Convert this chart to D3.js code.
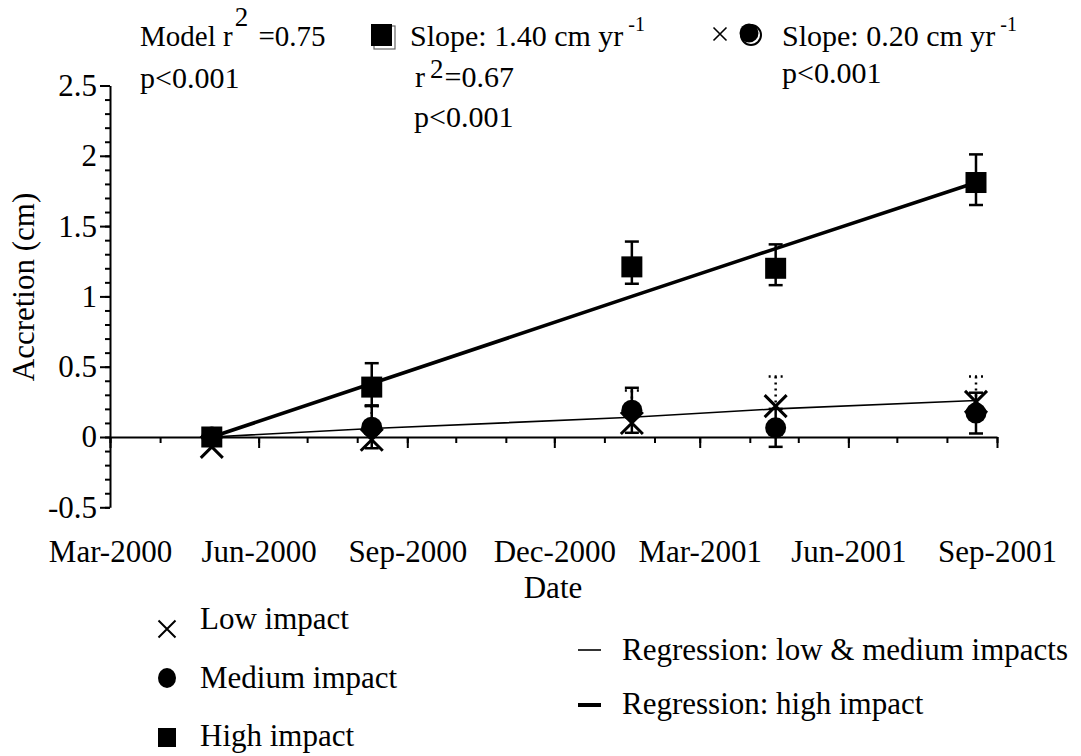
<!DOCTYPE html>
<html>
<head>
<meta charset="utf-8">
<script src="https://cdn.jsdelivr.net/npm/d3@7"></script>
<style>
  body { margin: 0; background: #fff; }
  text { font-family: "Liberation Serif", "Times New Roman", serif; fill: #000; }
</style>
</head>
<body>
<svg id="chart" width="1081" height="756"></svg>
<script>
// Sampling dates and mean accretion (cm) per impact class
const sampleDates = ["2000-05-03", "2000-08-10", "2001-01-18", "2001-04-17", "2001-08-19"];
const lowImpact = [-0.07, -0.02, 0.10, 0.22, 0.25];
const lowErr = [0.05, 0.24, 0.23, 0.21, 0.18];          // drawn upward only
const mediumImpact = [0.0, 0.07, 0.19, 0.065, 0.17];
const mediumErr = [0.03, 0.15, 0.16, 0.135, 0.145];
const highImpact = [0.0, 0.355, 1.21, 1.20, 1.81];
const highErrUp = [0.03, 0.17, 0.18, 0.17, 0.20];
const highErrDown = [0.03, 0.13, 0.12, 0.12, 0.16];
// Fitted regression values at each sampling date
const fitLowMedium = [0, 0.06, 0.14, 0.20, 0.26];
const fitHigh = [0, 0.38, 1.00, 1.34, 1.81];
// Axis ticks
const yTicks = [-0.5, 0, 0.5, 1, 1.5, 2, 2.5];
const yTickLabels = ["-0.5", "0", "0.5", "1", "1.5", "2", "2.5"];
const xTickDates = ["2000-03-01", "2000-06-01", "2000-09-01", "2000-12-01", "2001-03-01", "2001-06-01", "2001-09-01"];
const xTickLabels = ["Mar-2000", "Jun-2000", "Sep-2000", "Dec-2000", "Mar-2001", "Jun-2001", "Sep-2001"];

const parse = d3.utcParse("%Y-%m-%d");
const dates = sampleDates.map(parse);
const xTicks = xTickDates.map(parse);

const svg = d3.select("#chart");
const FS = 31;

const x = d3.scaleUtc().domain([xTicks[0], xTicks[xTicks.length - 1]]).range([110, 997]);
const y = d3.scaleLinear().domain([-0.5, 2.5]).range([507.3, 85.5]);

// ---- Y axis: minor ticks every 0.1, labelled major ticks every 0.5
const yMinor = d3.range(-5, 26).map(i => i / 10);
svg.append("g").attr("transform", "translate(110,0)")
  .call(d3.axisLeft(y).tickValues(yMinor).tickSize(5).tickSizeOuter(0).tickFormat(""))
  .call(g => g.selectAll("line,path").attr("stroke", "#000").attr("stroke-width", 2));
svg.append("g").attr("transform", "translate(110,0)")
  .call(d3.axisLeft(y).tickValues(yTicks).tickSize(10).tickSizeOuter(0).tickPadding(3)
    .tickFormat((d, i) => yTickLabels[i]))
  .call(g => g.select(".domain").remove())
  .call(g => g.selectAll("line").attr("stroke", "#000").attr("stroke-width", 2))
  .call(g => g.selectAll("text").attr("font-size", FS).attr("font-family", null).attr("fill", "#000"));

// ---- X axis drawn along y = 0: monthly minor ticks, quarterly major ticks
const xMinor = d3.utcMonth.range(xTicks[0], d3.utcDay.offset(xTicks[xTicks.length - 1], 1));
svg.append("g").attr("transform", `translate(0,${y(0)})`)
  .call(d3.axisBottom(x).tickValues(xMinor).tickSize(6).tickSizeOuter(0).tickFormat(""))
  .call(g => g.selectAll("line,path").attr("stroke", "#000").attr("stroke-width", 2));
svg.append("g").attr("transform", `translate(0,${y(0)})`)
  .call(d3.axisBottom(x).tickValues(xTicks).tickSize(11).tickSizeOuter(0).tickFormat(""))
  .call(g => g.select(".domain").remove())
  .call(g => g.selectAll("line").attr("stroke", "#000").attr("stroke-width", 2));
// Date labels sit below the plot frame
svg.append("g").attr("transform", `translate(0,${y(-0.5)})`)
  .call(d3.axisBottom(x).tickValues(xTicks).tickSize(0).tickPadding(33)
    .tickFormat((d, i) => xTickLabels[i]))
  .call(g => g.select(".domain").remove())
  .call(g => g.selectAll("text").attr("font-size", FS).attr("font-family", null).attr("fill", "#000"));

// Axis titles
svg.append("text").attr("x", 553).attr("y", 598).attr("text-anchor", "middle")
  .attr("font-size", FS).text("Date");
svg.append("text").attr("transform", "translate(34,287) rotate(-90)").attr("text-anchor", "middle")
  .attr("font-size", FS).text("Accretion (cm)");

// ---- Regression lines
const fitLine = d3.line().x((d, i) => x(dates[i])).y(d => y(d));
svg.append("path").datum(fitLowMedium).attr("d", fitLine)
  .attr("fill", "none").attr("stroke", "#000").attr("stroke-width", 1.6);
svg.append("path").datum(fitHigh).attr("d", fitLine)
  .attr("fill", "none").attr("stroke", "#000").attr("stroke-width", 3.6);

// ---- Error bars
function errorBars(vals, up, down, dash) {
  const g = svg.append("g").attr("stroke", "#000").attr("stroke-width", 2.5)
    .attr("stroke-dasharray", dash);
  vals.forEach((v, i) => {
    const cx = x(dates[i]);
    const top = y(v + up[i]);
    const bot = down ? y(v - down[i]) : y(v);
    g.append("line").attr("x1", cx).attr("x2", cx).attr("y1", top).attr("y2", bot);
    g.append("line").attr("x1", cx - 7).attr("x2", cx + 7).attr("y1", top).attr("y2", top);
    if (down) g.append("line").attr("x1", cx - 7).attr("x2", cx + 7).attr("y1", bot).attr("y2", bot);
  });
}
errorBars(lowImpact, lowErr, null, "2,4");
errorBars(mediumImpact, mediumErr, mediumErr, null);
errorBars(highImpact, highErrUp, highErrDown, null);

// ---- Markers
const crossPath = s => `M${-s},${-s}L${s},${s}M${-s},${s}L${s},${-s}`;
svg.append("g").selectAll("path").data(lowImpact).join("path")
  .attr("transform", (d, i) => `translate(${x(dates[i])},${y(d)})`)
  .attr("d", crossPath(11)).attr("stroke", "#000").attr("stroke-width", 3).attr("fill", "none");
svg.append("g").selectAll("circle").data(mediumImpact).join("circle")
  .attr("cx", (d, i) => x(dates[i])).attr("cy", d => y(d)).attr("r", 10.5).attr("fill", "#000");
svg.append("g").selectAll("rect").data(highImpact).join("rect")
  .attr("x", (d, i) => x(dates[i]) - 10.5).attr("y", d => y(d) - 10.5)
  .attr("width", 21).attr("height", 21).attr("fill", "#000");

// ---- Statistics annotations
function rich(xp, yp, parts, size = 30) {
  const t = svg.append("text").attr("x", xp).attr("y", yp).attr("font-size", size);
  parts.forEach(p => {
    const s = t.append("tspan").text(p.t);
    if (p.sup) s.attr("font-size", p.size).attr("dy", -p.sup);
    if (p.down) s.attr("dy", p.down);
    if (p.dx) s.attr("dx", p.dx);
  });
}
rich(140, 46, [{ t: "Model r" }, { t: "2", sup: 20, size: 27, dx: 2 }, { t: " =0.75", down: 20, dx: 3 }], 29);
rich(140, 88, [{ t: "p<0.001" }]);

svg.append("rect").attr("x", 374).attr("y", 26).attr("width", 21).attr("height", 23)
  .attr("fill", "none").attr("stroke", "#666").attr("stroke-width", 1.2);
svg.append("rect").attr("x", 371).attr("y", 24).attr("width", 21).attr("height", 22).attr("fill", "#000");
rich(410, 46, [{ t: "Slope: 1.40 cm yr" }, { t: "-1", sup: 15, size: 20, dx: 5 }]);
rich(415, 87, [{ t: "r" }, { t: "2", sup: 9, size: 27, dx: 5 }, { t: "=0.67", down: 9, dx: 1 }]);
rich(414, 127, [{ t: "p<0.001" }]);

svg.append("path").attr("transform", "translate(720,34)").attr("d", crossPath(6.5))
  .attr("stroke", "#000").attr("stroke-width", 1.6);
svg.append("circle").attr("cx", 751).attr("cy", 35).attr("r", 10).attr("fill", "#fff")
  .attr("stroke", "#000").attr("stroke-width", 2);
svg.append("circle").attr("cx", 749).attr("cy", 33).attr("r", 9.5).attr("fill", "#000");
rich(782, 46, [{ t: "Slope: 0.20 cm yr" }, { t: "-1", sup: 15, size: 20, dx: 5 }]);
rich(782, 83, [{ t: "p<0.001" }]);

// ---- Legend
const lg = svg.append("g");
lg.append("path").attr("transform", "translate(167,629)").attr("d", crossPath(8.5))
  .attr("stroke", "#000").attr("stroke-width", 2);
lg.append("ellipse").attr("cx", 167).attr("cy", 678).attr("rx", 9).attr("ry", 10).attr("fill", "#000");
lg.append("rect").attr("x", 158).attr("y", 728).attr("width", 18).attr("height", 19).attr("fill", "#000");
lg.append("line").attr("x1", 578).attr("x2", 601).attr("y1", 650).attr("y2", 650)
  .attr("stroke", "#000").attr("stroke-width", 1.6);
lg.append("line").attr("x1", 578).attr("x2", 601).attr("y1", 705).attr("y2", 705)
  .attr("stroke", "#000").attr("stroke-width", 4);
const legendText = [
  ["Low impact", 200, 629], ["Medium impact", 200, 688], ["High impact", 200, 746],
  ["Regression: low & medium impacts", 622, 660], ["Regression: high impact", 622, 714]
];
lg.selectAll("text").data(legendText).join("text")
  .attr("x", d => d[1]).attr("y", d => d[2]).attr("font-size", FS).text(d => d[0]);
</script>
</body>
</html>
